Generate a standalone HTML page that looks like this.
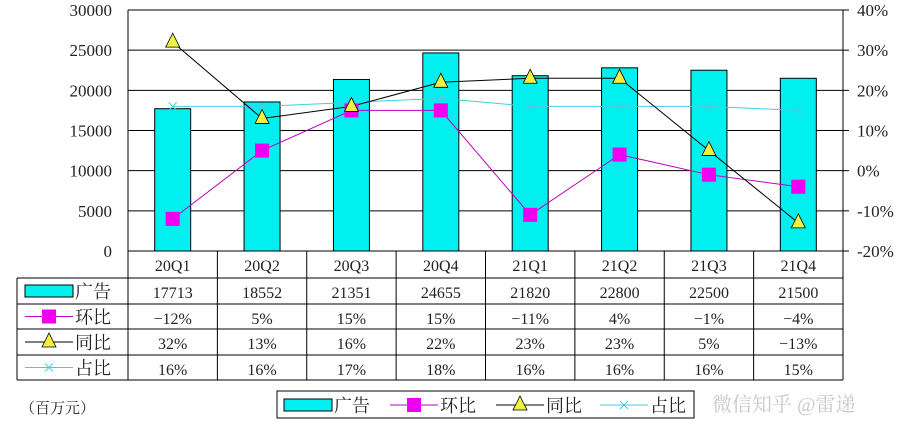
<!DOCTYPE html>
<html><head><meta charset="utf-8"><style>
body{margin:0;background:#fff;width:918px;height:438px;overflow:hidden;font-family:"Liberation Serif","Noto Serif CJK SC",serif;}
text{font-family:"Liberation Serif","Noto Serif CJK SC",serif;fill:#222;}
</style></head><body>
<svg id="c" width="918" height="438"></svg>
<script>
const categories=["20Q1","20Q2","20Q3","20Q4","21Q1","21Q2","21Q3","21Q4"];
const adRevenue=[17713,18552,21351,24655,21820,22800,22500,21500];
const qoq=[-12,5,15,15,-11,4,-1,-4];
const yoy=[32,13,16,22,23,23,5,-13];
const share=[16,16,17,18,16,16,16,15];
const leftTicks=[0,5000,10000,15000,20000,25000,30000];
const rightTicks=[-20,-10,0,10,20,30,40];

const NS="http://www.w3.org/2000/svg";
const svg=document.getElementById('c');
const L=128,R=843,T=10,B=251;
const cw=(R-L)/categories.length;
const xC=i=>L+cw*(i+0.5);
const yL=v=>B-(v/30000)*(B-T);
const yR=v=>B-((v+20)/60)*(B-T);
function mk(tag,a,parent){const e=document.createElementNS(NS,tag);for(const k in a)e.setAttribute(k,a[k]);(parent||svg).appendChild(e);return e;}
function txt(s,x,y,anchor,size){const t=mk('text',{x:x,y:y,'text-anchor':anchor||'middle','font-size':size||16});t.textContent=s;return t;}

// gridlines
leftTicks.forEach(v=>{const l=mk('line',{x1:L,x2:R,y1:yL(v),y2:yL(v),stroke:'#000','stroke-width':1});


const t=txt(String(v),112,yL(v)+6,'end',17);

});
rightTicks.forEach(v=>{const t=txt(v+'%',857,yR(v)+6,'start',17);

});
mk('line',{x1:L,x2:L,y1:T,y2:B,stroke:'#000'});
mk('line',{x1:R,x2:R,y1:T,y2:B,stroke:'#000'});
mk('line',{x1:R,x2:R+6,y1:T,y2:T,stroke:'#000'});
rightTicks.forEach(v=>mk('line',{x1:R,x2:R+6,y1:yR(v),y2:yR(v),stroke:'#000'}));

// bars
adRevenue.forEach((v,i)=>{const r=mk('rect',{x:xC(i)-18,y:yL(v),width:36,height:B-yL(v),fill:'#00f0f0',stroke:'#000','stroke-width':1});

});

function line(arr,color,name){const p=arr.map((v,i)=>xC(i)+','+yR(v)).join(' ');const l=mk('polyline',{points:p,fill:'none',stroke:color,'stroke-width':1});

}
line(share,'#40d0e0','share-line');
line(qoq,'#c000c0','qoq-line');
line(yoy,'#000','yoy-line');
share.forEach((v,i)=>{const g=mk('path',{d:`M${xC(i)-4},${yR(v)-4}L${xC(i)+4},${yR(v)+4}M${xC(i)+4},${yR(v)-4}L${xC(i)-4},${yR(v)+4}`,stroke:'#40d0e0'});

});
qoq.forEach((v,i)=>{const r=mk('rect',{x:xC(i)-7,y:yR(v)-7,width:14,height:14,fill:'#f000f0'});

});
yoy.forEach((v,i)=>{const y=yR(v);const p=mk('polygon',{points:`${xC(i)},${y-9} ${xC(i)-7},${y+5} ${xC(i)+7},${y+5}`,fill:'#f0f040',stroke:'#000','stroke-width':0.8});

});

// table
const rows=[251,278,304,329,355,380];
const TL=17;
mk('line',{x1:L,x2:R,y1:rows[0],y2:rows[0],stroke:'#000'});
for(let r=1;r<rows.length;r++)mk('line',{x1:TL,x2:R,y1:rows[r],y2:rows[r],stroke:'#000'});
mk('line',{x1:TL,x2:TL,y1:rows[1],y2:rows[5],stroke:'#000'});
for(let i=0;i<=categories.length;i++)mk('line',{x1:L+cw*i,x2:L+cw*i,y1:rows[0],y2:rows[5],stroke:'#000'});
categories.forEach((c,i)=>{const t=txt(c,xC(i),rows[0]+20);

});
const tableRows=[adRevenue.map(String),qoq.map(v=>(v<0?'−'+(-v):v)+'%'),yoy.map(v=>(v<0?'−'+(-v):v)+'%'),share.map(v=>v+'%')];
tableRows.forEach((arr,r)=>arr.forEach((s,i)=>{const t=txt(s,xC(i),rows[r+1]+20);

}));

function legendIcon(kind,x,y){
 if(kind==0){mk('rect',{x:x,y:y-6,width:48,height:12,fill:'#00f0f0',stroke:'#000'});}
 if(kind==1){mk('line',{x1:x,x2:x+48,y1:y,y2:y,stroke:'#c000c0'});mk('rect',{x:x+17,y:y-7,width:14,height:14,fill:'#f000f0'});}
 if(kind==2){mk('line',{x1:x,x2:x+48,y1:y,y2:y,stroke:'#000'});mk('polygon',{points:`${x+24},${y-9} ${x+17},${y+5} ${x+31},${y+5}`,fill:'#f0f040',stroke:'#000','stroke-width':0.8});}
 if(kind==3){mk('line',{x1:x,x2:x+48,y1:y,y2:y,stroke:'#40d0e0'});mk('path',{d:`M${x+20},${y-4}L${x+28},${y+4}M${x+28},${y-4}L${x+20},${y+4}`,stroke:'#40d0e0'});}
}
const names=['广告','环比','同比','占比'];
names.forEach((n,r)=>{const y=(rows[r+1]+rows[r+2])/2;legendIcon(r,25,y);const t=txt(n,75,y+7,'start',18);

});

// bottom legend
const lb=mk('rect',{x:277,y:391,width:417,height:27,fill:'none',stroke:'#000'});


const lx=[284,390,496,600];
names.forEach((n,r)=>{legendIcon(r,lx[r],405);const t=txt(n,lx[r]+50,412,'start',18);

});
const u=txt('（百万元）',20,413,'start',15);


const w=txt('微信知乎 @雷递',712,411,'start',20);
w.setAttribute('fill','#bbb');w.style.fill='#c8c8c8';


</script>
</body></html>
